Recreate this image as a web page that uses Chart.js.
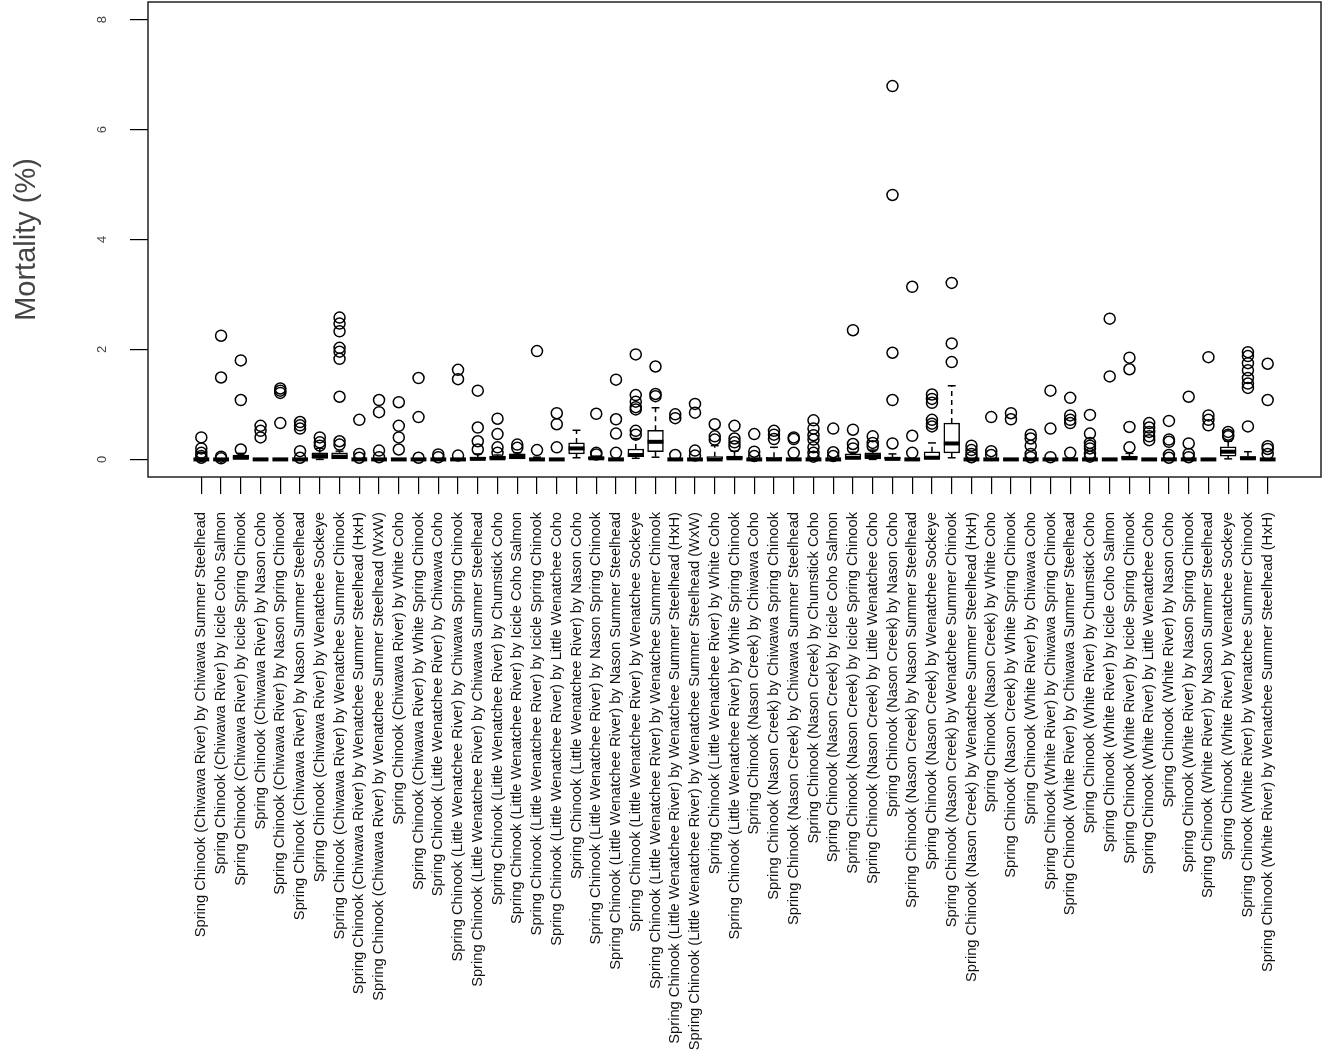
<!DOCTYPE html>
<html>
<head>
<meta charset="utf-8">
<script src="https://cdn.jsdelivr.net/npm/chart.js@4.4.1/dist/chart.umd.min.js"></script>
<style>
    html, body { margin: 0; background: #fff; }
    #wrap { width: 1328px; height: 1057px; }
</style>
</head>
<body>
<div id="wrap"><canvas id="chart"></canvas></div>
<script>
// Boxplot of mortality by group

const categories = [
    'Spring Chinook (Chiwawa River) by Chiwawa Summer Steelhead',
    'Spring Chinook (Chiwawa River) by Icicle Coho Salmon',
    'Spring Chinook (Chiwawa River) by Icicle Spring Chinook',
    'Spring Chinook (Chiwawa River) by Nason Coho',
    'Spring Chinook (Chiwawa River) by Nason Spring Chinook',
    'Spring Chinook (Chiwawa River) by Nason Summer Steelhead',
    'Spring Chinook (Chiwawa River) by Wenatchee Sockeye',
    'Spring Chinook (Chiwawa River) by Wenatchee Summer Chinook',
    'Spring Chinook (Chiwawa River) by Wenatchee Summer Steelhead (HxH)',
    'Spring Chinook (Chiwawa River) by Wenatchee Summer Steelhead (WxW)',
    'Spring Chinook (Chiwawa River) by White Coho',
    'Spring Chinook (Chiwawa River) by White Spring Chinook',
    'Spring Chinook (Little Wenatchee River) by Chiwawa Coho',
    'Spring Chinook (Little Wenatchee River) by Chiwawa Spring Chinook',
    'Spring Chinook (Little Wenatchee River) by Chiwawa Summer Steelhead',
    'Spring Chinook (Little Wenatchee River) by Chumstick Coho',
    'Spring Chinook (Little Wenatchee River) by Icicle Coho Salmon',
    'Spring Chinook (Little Wenatchee River) by Icicle Spring Chinook',
    'Spring Chinook (Little Wenatchee River) by Little Wenatchee Coho',
    'Spring Chinook (Little Wenatchee River) by Nason Coho',
    'Spring Chinook (Little Wenatchee River) by Nason Spring Chinook',
    'Spring Chinook (Little Wenatchee River) by Nason Summer Steelhead',
    'Spring Chinook (Little Wenatchee River) by Wenatchee Sockeye',
    'Spring Chinook (Little Wenatchee River) by Wenatchee Summer Chinook',
    'Spring Chinook (Little Wenatchee River) by Wenatchee Summer Steelhead (HxH)',
    'Spring Chinook (Little Wenatchee River) by Wenatchee Summer Steelhead (WxW)',
    'Spring Chinook (Little Wenatchee River) by White Coho',
    'Spring Chinook (Little Wenatchee River) by White Spring Chinook',
    'Spring Chinook (Nason Creek) by Chiwawa Coho',
    'Spring Chinook (Nason Creek) by Chiwawa Spring Chinook',
    'Spring Chinook (Nason Creek) by Chiwawa Summer Steelhead',
    'Spring Chinook (Nason Creek) by Chumstick Coho',
    'Spring Chinook (Nason Creek) by Icicle Coho Salmon',
    'Spring Chinook (Nason Creek) by Icicle Spring Chinook',
    'Spring Chinook (Nason Creek) by Little Wenatchee Coho',
    'Spring Chinook (Nason Creek) by Nason Coho',
    'Spring Chinook (Nason Creek) by Nason Summer Steelhead',
    'Spring Chinook (Nason Creek) by Wenatchee Sockeye',
    'Spring Chinook (Nason Creek) by Wenatchee Summer Chinook',
    'Spring Chinook (Nason Creek) by Wenatchee Summer Steelhead (HxH)',
    'Spring Chinook (Nason Creek) by White Coho',
    'Spring Chinook (Nason Creek) by White Spring Chinook',
    'Spring Chinook (White River) by Chiwawa Coho',
    'Spring Chinook (White River) by Chiwawa Spring Chinook',
    'Spring Chinook (White River) by Chiwawa Summer Steelhead',
    'Spring Chinook (White River) by Chumstick Coho',
    'Spring Chinook (White River) by Icicle Coho Salmon',
    'Spring Chinook (White River) by Icicle Spring Chinook',
    'Spring Chinook (White River) by Little Wenatchee Coho',
    'Spring Chinook (White River) by Nason Coho',
    'Spring Chinook (White River) by Nason Spring Chinook',
    'Spring Chinook (White River) by Nason Summer Steelhead',
    'Spring Chinook (White River) by Wenatchee Sockeye',
    'Spring Chinook (White River) by Wenatchee Summer Chinook',
    'Spring Chinook (White River) by Wenatchee Summer Steelhead (HxH)'
];

// box statistics per category (mortality %)
const whiskerLow = [
    0, 0, 0, 0, 0, 0, 0, 0, 0, 0, 0, 0, 0, 0,
    0, 0, 0, 0, 0, 0.03, 0, 0, 0.02, 0.04, 0, 0, 0, 0,
    0, 0, 0, 0, 0, 0, 0, 0, 0, 0, 0.03, 0, 0, 0,
    0, 0, 0, 0, 0, 0, 0, 0, 0, 0, 0.01, 0, 0
];
const boxLow = [
    0, 0, 0, 0, 0, 0, 0.02, 0, 0, 0, 0, 0, 0, 0,
    0, 0, 0, 0, 0, 0.10, 0, 0, 0.05, 0.14, 0, 0, 0, 0,
    0, 0, 0, 0, 0, 0, 0.01, 0, 0, 0, 0.12, 0, 0, 0,
    0, 0, 0, 0, 0, 0, 0, 0, 0, 0, 0.06, 0, 0
];
const medians = [
    0, 0, 0.03, 0, 0, 0, 0.06, 0.05, 0, 0, 0, 0, 0, 0,
    0.01, 0.02, 0.05, 0, 0, 0.20, 0.02, 0, 0.08, 0.32, 0, 0, 0, 0.02,
    0, 0, 0, 0, 0, 0.03, 0.06, 0.01, 0, 0.03, 0.29, 0, 0, 0,
    0, 0, 0, 0, 0, 0.02, 0, 0, 0, 0, 0.14, 0.02, 0
];
const boxHigh = [
    0, 0, 0.08, 0, 0, 0, 0.12, 0.12, 0, 0, 0, 0, 0, 0,
    0.04, 0.06, 0.10, 0.02, 0, 0.30, 0.04, 0, 0.19, 0.53, 0, 0, 0.05, 0.06,
    0, 0.04, 0, 0, 0, 0.10, 0.12, 0.04, 0, 0.14, 0.66, 0, 0, 0,
    0, 0, 0, 0, 0, 0.06, 0, 0, 0, 0, 0.23, 0.05, 0
];
const whiskerHigh = [
    0, 0, 0.11, 0, 0, 0, 0.20, 0.15, 0, 0, 0, 0, 0, 0,
    0.10, 0.08, 0.12, 0.04, 0, 0.53, 0.06, 0, 0.38, 0.94, 0, 0, 0.25, 0.15,
    0, 0.22, 0, 0, 0, 0.13, 0.17, 0.10, 0, 0.30, 1.34, 0, 0, 0,
    0, 0, 0, 0, 0, 0.11, 0, 0, 0, 0, 0.33, 0.14, 0
];
const outliers = [
    [0.40, 0.20, 0.12, 0.06, 0.03],
    [2.25, 1.49, 0.05, 0.02],
    [1.80, 1.08, 0.18],
    [0.61, 0.52, 0.40],
    [1.29, 1.25, 1.21, 0.66],
    [0.68, 0.62, 0.56, 0.15, 0.03],
    [0.40, 0.31, 0.25],
    [2.58, 2.47, 2.33, 2.03, 1.96, 1.83, 1.14, 0.33, 0.27],
    [0.72, 0.10, 0.03],
    [1.08, 0.86, 0.16, 0.04],
    [1.04, 0.61, 0.40, 0.18],
    [1.48, 0.77, 0.03],
    [0.09, 0.04],
    [1.63, 1.46, 0.07],
    [1.25, 0.58, 0.33, 0.18],
    [0.74, 0.46, 0.22, 0.12],
    [0.27, 0.21],
    [1.97, 0.17],
    [0.84, 0.64, 0.22],
    [],
    [0.83, 0.12, 0.09],
    [1.45, 0.73, 0.47, 0.12],
    [1.91, 1.17, 1.05, 0.95, 0.91, 0.52, 0.45],
    [1.69, 1.19, 1.15],
    [0.82, 0.75, 0.08],
    [1.01, 0.85, 0.16, 0.07],
    [0.64, 0.42, 0.36],
    [0.61, 0.38, 0.31, 0.24],
    [0.46, 0.14, 0.06],
    [0.52, 0.45, 0.37],
    [0.40, 0.37, 0.12],
    [0.71, 0.56, 0.44, 0.36, 0.22, 0.12, 0.05],
    [0.56, 0.13, 0.06],
    [2.35, 0.54, 0.28, 0.20],
    [0.42, 0.30, 0.24],
    [6.79, 4.81, 1.94, 1.08, 0.29],
    [3.14, 0.43, 0.12],
    [1.18, 1.10, 1.03, 0.72, 0.65, 0.60],
    [3.21, 2.11, 1.77],
    [0.25, 0.17, 0.10, 0.04],
    [0.77, 0.15, 0.08],
    [0.84, 0.73],
    [0.45, 0.38, 0.25, 0.10, 0.04],
    [1.25, 0.56, 0.04],
    [1.12, 0.80, 0.72, 0.66, 0.12],
    [0.81, 0.47, 0.30, 0.25, 0.20, 0.10, 0.05],
    [2.56, 1.51],
    [1.85, 1.64, 0.59, 0.22],
    [0.66, 0.58, 0.50, 0.42, 0.35],
    [0.70, 0.36, 0.32, 0.08, 0.03],
    [1.14, 0.29, 0.10, 0.04],
    [1.86, 0.80, 0.72, 0.62],
    [0.50, 0.45, 0.42],
    [1.95, 1.88, 1.75, 1.62, 1.48, 1.38, 1.30, 0.60],
    [1.74, 1.08, 0.24, 0.19, 0.10]
];
const yTicks = [0, 2, 4, 6, 8];
const yTitle = 'Mortality (%)';

const BOX_WEX = 0.8;

// whiskers, caps and medians drawn from the scales
const boxPlugin = {
    id: 'boxParts',
    afterDatasetsDraw(chart) {
        const ctx = chart.ctx;
        const xs = chart.scales.x, ys = chart.scales.y;
        const half = (xs.getPixelForValue(1 + BOX_WEX) - xs.getPixelForValue(1)) / 2;
        ctx.save();
        ctx.strokeStyle = '#000';
        categories.forEach((c, i) => {
            const x = xs.getPixelForValue(i + 1);
            const yq1 = ys.getPixelForValue(boxLow[i]);
            const yq3 = ys.getPixelForValue(boxHigh[i]);
            const ylo = ys.getPixelForValue(whiskerLow[i]);
            const yhi = ys.getPixelForValue(whiskerHigh[i]);
            ctx.lineWidth = 1.5;
            if (whiskerHigh[i] > boxHigh[i]) {
                ctx.setLineDash([5, 4]);
                ctx.beginPath(); ctx.moveTo(x, yq3); ctx.lineTo(x, yhi); ctx.stroke();
                ctx.setLineDash([]);
                ctx.beginPath(); ctx.moveTo(x - half / 2, yhi); ctx.lineTo(x + half / 2, yhi); ctx.stroke();
            }
            if (whiskerLow[i] < boxLow[i]) {
                ctx.setLineDash([5, 4]);
                ctx.beginPath(); ctx.moveTo(x, yq1); ctx.lineTo(x, ylo); ctx.stroke();
                ctx.setLineDash([]);
                ctx.beginPath(); ctx.moveTo(x - half / 2, ylo); ctx.lineTo(x + half / 2, ylo); ctx.stroke();
            }
            const ym = ys.getPixelForValue(medians[i]);
            ctx.lineWidth = 4;
            ctx.beginPath(); ctx.moveTo(x - half, ym); ctx.lineTo(x + half, ym); ctx.stroke();
        });
        ctx.restore();
    },
    afterDraw(chart) {
        const ctx = chart.ctx;
        const a = chart.chartArea;
        const ys = chart.scales.y;
        ctx.save();
        // plot frame
        ctx.strokeStyle = '#222';
        ctx.lineWidth = 1.5;
        ctx.strokeRect(a.left, a.top, a.right - a.left, a.bottom - a.top);
        // y tick labels, parallel to the axis
        ctx.fillStyle = '#444';
        ctx.font = '13px "Liberation Sans", Arial, sans-serif';
        ctx.textAlign = 'center';
        ctx.textBaseline = 'middle';
        yTicks.forEach(v => {
            ctx.save();
            ctx.translate(102, ys.getPixelForValue(v));
            ctx.rotate(-Math.PI / 2);
            ctx.fillText(String(v), 0, 0);
            ctx.restore();
        });
        ctx.restore();
    }
};

const boxData = categories.map((c, i) => ({ x: i + 1, y: [boxLow[i], boxHigh[i]] }));
const outlierData = [];
outliers.forEach((list, i) => list.forEach(v => outlierData.push({ x: i + 1, y: v })));

new Chart(document.getElementById('chart'), {
    type: 'bar',
    data: {
        datasets: [
            {
                data: boxData,
                backgroundColor: '#fff',
                borderColor: '#000',
                borderWidth: 1.5,
                borderSkipped: false,
                barThickness: 15.8
            },
            {
                type: 'scatter',
                data: outlierData,
                pointStyle: 'circle',
                pointRadius: 5.5,
                pointBorderWidth: 1.5,
                pointBorderColor: '#000',
                pointBackgroundColor: 'rgba(0,0,0,0)',
                showLine: false
            }
        ]
    },
    options: {
        responsive: true,
        maintainAspectRatio: false,
        animation: false,
        layout: { autoPadding: false, padding: { top: 2, right: 7, left: 0, bottom: 0 } },
        plugins: {
            legend: { display: false },
            tooltip: { enabled: false }
        },
        scales: {
            x: {
                type: 'linear',
                offset: false,
                min: -1.7,
                max: 57.7,
                afterBuildTicks: s => { s.ticks = categories.map((c, i) => ({ value: i + 1 })); },
                afterFit: s => { s.height = 580; },
                grid: { offset: false, drawOnChartArea: false, tickLength: 17, color: '#000', lineWidth: 1.2 },
                border: { display: false },
                ticks: {
                    autoSkip: false,
                    minRotation: 90,
                    maxRotation: 90,
                    padding: 18,
                    color: '#111',
                    font: { family: '"Liberation Sans", Arial, sans-serif', size: 14.7 },
                    callback: v => categories[v - 1]
                }
            },
            y: {
                min: -0.32,
                max: 8.32,
                afterBuildTicks: s => { s.ticks = yTicks.map(v => ({ value: v })); },
                afterFit: s => { s.width = 148; },
                grid: { drawOnChartArea: false, tickLength: 18, color: '#000', lineWidth: 1.2 },
                border: { display: false },
                ticks: { display: false },
                title: {
                    display: true,
                    text: yTitle,
                    color: '#444',
                    font: { family: '"Liberation Sans", Arial, sans-serif', size: 29 },
                    padding: { top: 10, bottom: 0 }
                }
            }
        }
    },
    plugins: [boxPlugin]
});
</script>
</body>
</html>
